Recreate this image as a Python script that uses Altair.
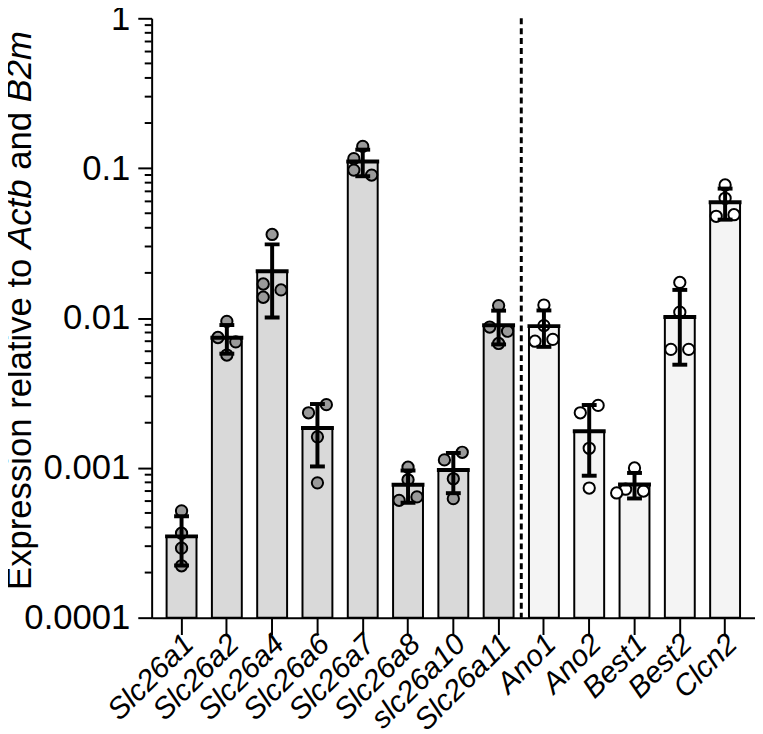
import math
import altair as alt
import pandas as pd

# ---------------- data ----------------
genes = ["Slc26a1", "Slc26a2", "Slc26a4", "Slc26a6", "Slc26a7", "Slc26a8",
         "slc26a10", "Slc26a11", "Ano1", "Ano2", "Best1", "Best2", "Clcn2"]
groups = ["SLC26"] * 8 + ["Channel"] * 5

rep_slc26a1 = [0.000516, 0.000366, 0.000291, 0.000222]
rep_slc26a2 = [0.0095, 0.00741, 0.00693, 0.00566]
rep_slc26a4 = [0.0361, 0.01686, 0.01539, 0.01375]
rep_slc26a6 = [0.00233, 0.00264, 0.00161, 0.000794]
rep_slc26a7 = [0.1397, 0.1157, 0.097, 0.0899]
rep_slc26a8 = [0.00101, 0.000832, 0.000607, 0.000640]
rep_slc26a10 = [0.00113, 0.00127, 0.000845, 0.000623]
rep_slc26a11 = [0.0121, 0.0087, 0.00816, 0.00676]
rep_ano1 = [0.0122, 0.0089, 0.0070, 0.0072]
rep_ano2 = [0.00233, 0.00261, 0.00135, 0.000733]
rep_best1 = [0.000998, 0.00072, 0.0007, 0.00068]
rep_best2 = [0.01727, 0.01094, 0.00617, 0.00617]
rep_clcn2 = [0.0772, 0.0629, 0.0477, 0.0489]

replicates = [rep_slc26a1, rep_slc26a2, rep_slc26a4, rep_slc26a6, rep_slc26a7,
              rep_slc26a8, rep_slc26a10, rep_slc26a11, rep_ano1, rep_ano2,
              rep_best1, rep_best2, rep_clcn2]

y_ticks = [0.0001, 0.001, 0.01, 0.1, 1]
minor_ticks = [m * 10 ** e for e in range(-4, 0) for m in range(2, 10)]

title_parts = ["Expression relative to", "Actb", "and", "B2m"]

# ---------------- layout ----------------
W, H = 609, 605
PAD_IN, PAD_OUT = 0.34, 0.33
FONT = "Liberation Sans, Arial, sans-serif"
PX_PER_DECADE = H / 4.0
ROW_GAP = 12.0
STEP = 9.0
DIA = 9.5
STEP_PX = W / (len(genes) - PAD_IN + 2 * PAD_OUT)
BAR_W = STEP_PX * (1 - PAD_IN)


def swarm_offsets(vals):
    """GraphPad-like scatter: points closer than ROW_GAP px form a row,
    spread sideways inside the row."""
    py = [-math.log10(v) * PX_PER_DECADE for v in vals]
    order = sorted(range(len(vals)), key=lambda i: py[i])
    rows, cur = [], [order[0]]
    for a, b in zip(order, order[1:]):
        if py[b] - py[a] < ROW_GAP:
            cur.append(b)
        else:
            rows.append(cur)
            cur = [b]
    rows.append(cur)
    offs = [0.0] * len(vals)
    for row in rows:
        if len(row) == 1:
            continue
        placed = []
        for i in sorted(row):
            for c in (-STEP, STEP, 0.0, -2 * STEP, 2 * STEP):
                if all(math.hypot(c - ox, py[i] - oy) >= DIA for ox, oy in placed):
                    break
            placed.append((c, py[i]))
            offs[i] = c
    return offs


rows = []
for g, grp, vals in zip(genes, groups, replicates):
    for v, o in zip(vals, swarm_offsets(vals)):
        rows.append({"gene": g, "group": grp, "value": v, "off": o})
df = pd.DataFrame(rows)

# ---------------- encodings ----------------
x_axis = alt.Axis(title=None, labelAngle=-45, labelFont=FONT, labelFontSize=30,
                  labelFontStyle="italic", labelColor="black", labelAlign="right",
                  labelBaseline="top", labelPadding=-6, labelOffset=-3,
                  labelOverlap=False, labelBound=False, labelFlush=False,
                  tickSize=17, tickWidth=2, tickColor="black",
                  domainWidth=2, domainColor="black", grid=False)
x_scale = alt.Scale(paddingInner=PAD_IN, paddingOuter=PAD_OUT)
y_scale = alt.Scale(type="log", domain=[0.0001, 1], nice=False)
y_axis = alt.Axis(title=None, values=y_ticks, format="~g", labelFont=FONT,
                  labelFontSize=35, labelColor="black", labelPadding=8,
                  tickSize=14, tickWidth=2, tickColor="black",
                  domainWidth=2, domainColor="black", grid=False)


def X(**kw):
    return alt.X("gene:N", sort=genes, scale=x_scale, axis=x_axis, **kw)


def Y(field):
    return alt.Y(field, scale=y_scale, axis=y_axis)


base = alt.Chart(df)

bars = base.transform_aggregate(
    mean_value="mean(value)", groupby=["gene", "group"]
).mark_bar(stroke="black", strokeWidth=2, width=BAR_W).encode(
    x=X(), y=Y("mean_value:Q"), y2=alt.datum(0.0001),
    color=alt.Color("group:N", scale=alt.Scale(domain=["SLC26", "Channel"],
                                                range=["#d9d9d9", "#f4f4f4"]),
                    legend=None))

points = base.mark_circle(size=130, stroke="black", strokeWidth=2, opacity=1).encode(
    x=X(), y=Y("value:Q"),
    xOffset=alt.XOffset("off:Q", scale=alt.Scale(domain=[-BAR_W / 2, BAR_W / 2])),
    fill=alt.Fill("group:N", scale=alt.Scale(domain=["SLC26", "Channel"],
                                              range=["#9a9a9a", "#ffffff"]),
                  legend=None))

errs = base.mark_errorbar(
    extent="stdev", size=15, thickness=4, color="black",
    ticks={"color": "black", "opacity": 1, "thickness": 4},
    rule={"color": "black", "opacity": 1, "strokeWidth": 4},
).encode(x=X(), y=Y("value:Q"))

means = base.mark_tick(size=BAR_W + 3, thickness=4, color="black", opacity=1).encode(
    x=X(), y=Y("mean(value):Q"))

# dashed divider halfway between the Slc26a11 and Ano1 bars
divider = alt.Chart(pd.DataFrame({"gene": ["Slc26a11"]})).mark_rule(
    strokeDash=[6, 4], strokeWidth=3, color="black",
    xOffset=STEP_PX * PAD_IN / 2).encode(
    x=X(bandPosition=1), y=alt.value(0), y2=alt.value(H))

minor = alt.Chart(pd.DataFrame({"value": minor_ticks})).mark_rule(
    color="black", strokeWidth=2).encode(
    y=Y("value:Q"), x=alt.value(-7), x2=alt.value(0))

# y title with italic gene names, built from pieces
FS = 35
ADV = {"Expression relative to": 9.559, "Actb": 2.001, "and": 1.668, "B2m": 2.056}
SPACE = 0.278
title_layers = []
ypos = 577.0
for part in title_parts:
    italic = part in ("Actb", "B2m")
    t = alt.Chart(pd.DataFrame({"t": [part]})).mark_text(
        angle=270, align="left", baseline="alphabetic", font=FONT, fontSize=FS,
        fontStyle="italic" if italic else "normal", color="black").encode(
        text="t:N", x=alt.value(-122), y=alt.value(ypos))
    title_layers.append(t)
    ypos -= (ADV[part] + SPACE) * FS

chart = alt.layer(bars, points, errs, means, divider, minor, *title_layers).resolve_scale(
    xOffset="independent"
).properties(
    width=W, height=H,
    autosize=alt.AutoSizeParams(type="none"),
    padding={"left": 145, "top": 7, "right": 0, "bottom": 112},
).configure_view(strokeWidth=0)

chart.save("out.html", embed_options={"renderer": "svg", "actions": False})
